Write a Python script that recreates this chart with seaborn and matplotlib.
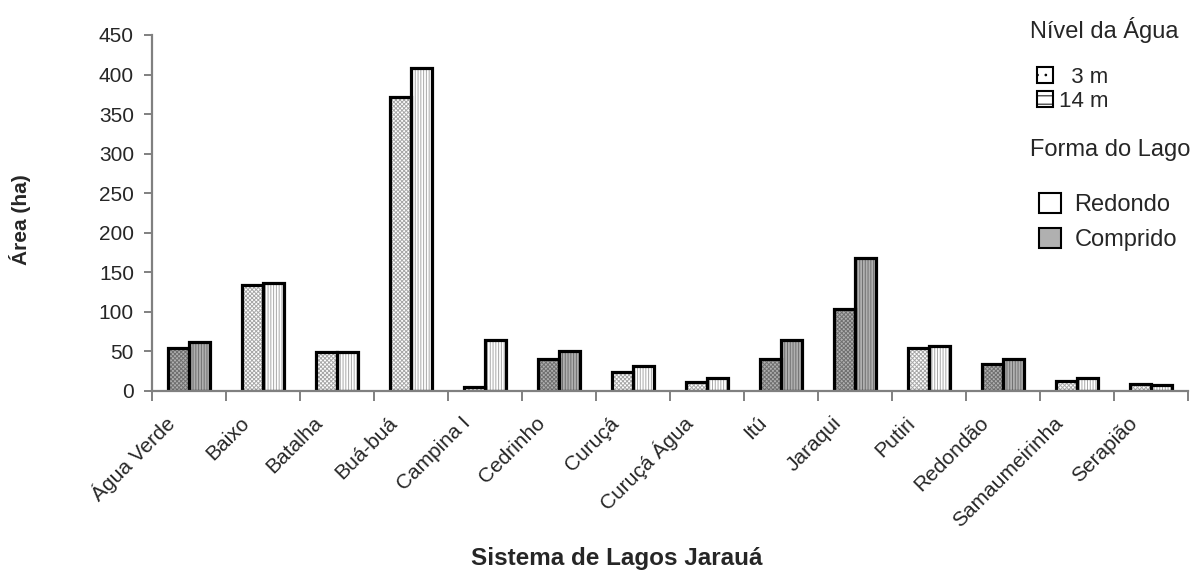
import matplotlib
matplotlib.use("Agg")
import matplotlib.pyplot as plt
import matplotlib.transforms as mtransforms
from matplotlib.patches import Patch
import numpy as np
import pandas as pd
import seaborn as sns

# ---------------- data ----------------
lakes = ["Água Verde", "Baixo", "Batalha", "Buá-buá", "Campina I", "Cedrinho",
         "Curuçá", "Curuçá Água", "Itú", "Jaraqui", "Putiri", "Redondão",
         "Samaumeirinha", "Serapião"]
shape = ["Comprido", "Redondo", "Redondo", "Redondo", "Redondo", "Comprido",
         "Redondo", "Redondo", "Comprido", "Comprido", "Redondo", "Comprido",
         "Redondo", "Redondo"]
area_3m = [54, 134, 49, 372, 5, 41, 24, 11, 41, 104, 54, 34, 13, 9]
area_14m = [62, 137, 49, 408, 64, 51, 31, 16, 65, 168, 57, 41, 16, 8]
levels = ["3 m", "14 m"]
shapes = ["Redondo", "Comprido"]
yticks = [0, 50, 100, 150, 200, 250, 300, 350, 400, 450]

df = pd.DataFrame({
    "lago": lakes * 2,
    "forma": shape * 2,
    "nivel": [levels[0]] * len(lakes) + [levels[1]] * len(lakes),
    "area": area_3m + area_14m,
})

# ---------------- style ----------------
sns.set_theme(style="white")
plt.rcParams["font.family"] = ["Liberation Sans", "DejaVu Sans"]
plt.rcParams["hatch.linewidth"] = 0.7

face = {"Redondo": "#ffffff", "Comprido": "#b0b0b0"}
hatch = {"3 m": "xxxxxxxx", "14 m": "||||||"}
hatch_col = {"Redondo": "#a8a8a8", "Comprido": "#707070"}

W, H = 1193, 579
fig = plt.figure(figsize=(W / 100, H / 100), dpi=100)
ax = fig.add_axes([152 / W, 1 - 391 / H, (1188 - 152) / W, (391 - 35) / H])

bw = 0.575
sns.barplot(data=df, x="lago", y="area", hue="nivel", order=lakes,
            hue_order=levels, width=bw, dodge=True, legend=False,
            errorbar=None, ax=ax, linewidth=0)

n_fill = len(ax.patches)
for p in ax.patches:
    cx = p.get_x() + p.get_width() / 2
    i = int(round(cx))
    lvl = levels[0] if cx < i else levels[1]
    f = shape[i]
    p.set_facecolor(face[f])
    p.set_edgecolor(hatch_col[f])
    p.set_hatch(hatch[lvl])
    p.set_linewidth(0)

sns.barplot(data=df, x="lago", y="area", hue="nivel", order=lakes,
            hue_order=levels, width=bw, dodge=True, legend=False,
            errorbar=None, ax=ax, fill=False, linewidth=2.3)
for p in ax.patches[n_fill:]:
    p.set_edgecolor("black")
    p.set_facecolor("none")
    p.set_linewidth(2.3)
    p.set_hatch(None)

ax.set_xlim(-0.5, len(lakes) - 0.5)
ax.set_ylim(0, 450)
ax.set_yticks(yticks)
ax.set_yticklabels([str(v) for v in yticks], fontsize=15)

for s in ["top", "right"]:
    ax.spines[s].set_visible(False)
for s in ["left", "bottom"]:
    ax.spines[s].set_color("#808080")
    ax.spines[s].set_linewidth(1.6)

ax.tick_params(axis="y", which="major", direction="out", length=6,
               width=1.4, color="#808080", pad=7, left=True)
ax.set_xticks(np.arange(len(lakes) + 1) - 0.5, minor=True)
ax.tick_params(axis="x", which="minor", direction="out", length=7,
               width=1.4, color="#808080", bottom=True)
ax.tick_params(axis="x", which="major", length=0, pad=21)
ax.set_xticks(np.arange(len(lakes)))
ax.set_xticklabels(lakes, rotation=45, ha="right", va="center",
                   rotation_mode="anchor", fontsize=15)
off = mtransforms.ScaledTranslation(-17 / 100, 0, fig.dpi_scale_trans)
for lab in ax.get_xticklabels():
    lab.set_transform(lab.get_transform() + off)

ax.set_xlabel("")
ax.set_ylabel("")
fig.text(20 / W, 1 - 220 / H, "Área (ha)", rotation=90, fontsize=15,
         fontweight="bold", ha="center", va="center")
fig.text(617 / W, 1 - 558 / H, "Sistema de Lagos Jarauá", fontsize=17.5,
         fontweight="bold", ha="center", va="center")

# ---------------- legends ----------------
fig.text(1030 / W, 1 - 30 / H, "Nível da Água", fontsize=17,
         ha="left", va="center")
fig.text(1030 / W, 1 - 150 / H, "Forma do Lago", fontsize=17,
         ha="left", va="center")

h_level = [Patch(facecolor="white", edgecolor="black", hatch="..", linewidth=1.5,
                 label="  3 m"),
           Patch(facecolor="white", edgecolor="black", hatch="--", linewidth=1.5,
                 label="14 m")]
h_shape = [Patch(facecolor=face[s], edgecolor="black", linewidth=1.5, label=s)
           for s in shapes]

fig.legend(handles=h_level, loc="upper left",
           bbox_to_anchor=(1037 / W, 1 - 67 / H), frameon=False,
           fontsize=16, handlelength=0.7, handleheight=0.7,
           handletextpad=0.3, borderpad=0, labelspacing=0.12,
           borderaxespad=0)
fig.legend(handles=h_shape, loc="upper left",
           bbox_to_anchor=(1039 / W, 1 - 193 / H), frameon=False,
           fontsize=17, handlelength=0.95, handleheight=0.95,
           handletextpad=0.55, borderpad=0, labelspacing=0.5,
           borderaxespad=0)

fig.savefig("out.png", dpi=100)
